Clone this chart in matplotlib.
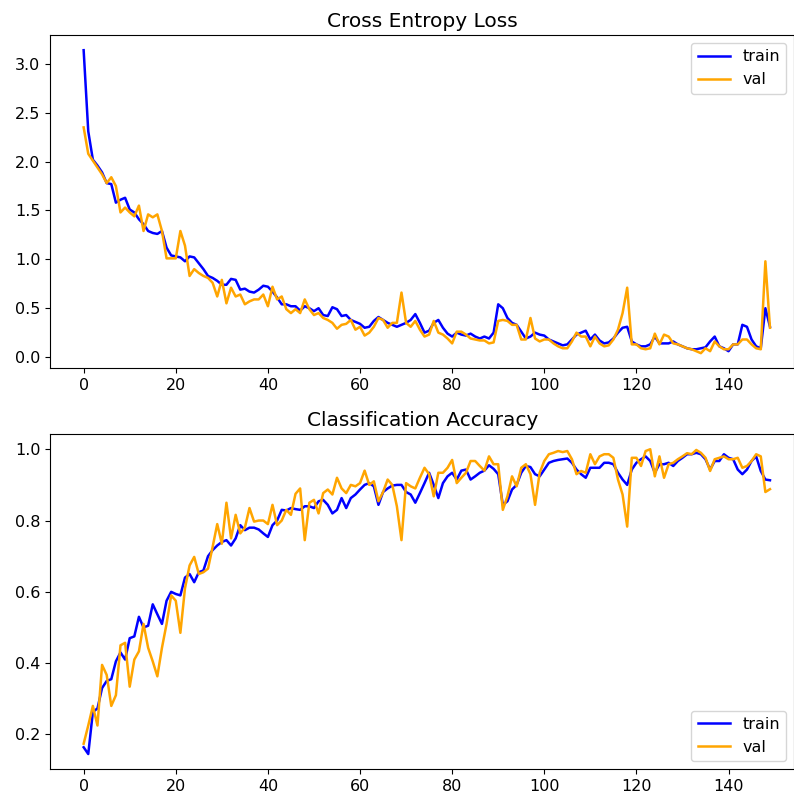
import matplotlib
matplotlib.use("Agg")
import matplotlib.pyplot as plt
import numpy as np

# Training history, one value per epoch (150 epochs)
loss_train = [
    3.14, 2.31, 2.02, 1.96, 1.89, 1.78, 1.77, 1.58, 1.61, 1.63,
    1.51, 1.48, 1.41, 1.36, 1.29, 1.27, 1.26, 1.29, 1.12, 1.04,
    1.03, 1.02, 0.98, 1.03, 1.02, 0.96, 0.90, 0.83, 0.81, 0.78,
    0.74, 0.74, 0.80, 0.79, 0.69, 0.70, 0.67, 0.66, 0.69, 0.73,
    0.72, 0.67, 0.61, 0.54, 0.54, 0.52, 0.52, 0.475, 0.52, 0.50,
    0.47, 0.50, 0.43, 0.42, 0.51, 0.49, 0.42, 0.43, 0.38, 0.36,
    0.34, 0.30, 0.31, 0.37, 0.41, 0.38, 0.35, 0.33, 0.31, 0.33,
    0.35, 0.38, 0.44, 0.35, 0.25, 0.27, 0.35, 0.38, 0.30, 0.24,
    0.21, 0.25, 0.23, 0.22, 0.24, 0.21, 0.19, 0.21, 0.19, 0.25,
    0.54, 0.50, 0.40, 0.35, 0.33, 0.26, 0.19, 0.21, 0.25, 0.23,
    0.22, 0.18, 0.16, 0.14, 0.12, 0.13, 0.18, 0.23, 0.25, 0.27,
    0.18, 0.23, 0.17, 0.14, 0.15, 0.19, 0.25, 0.30, 0.31, 0.16,
    0.13, 0.11, 0.11, 0.13, 0.21, 0.14, 0.14, 0.14, 0.16, 0.13,
    0.11, 0.09, 0.08, 0.08, 0.09, 0.10, 0.16, 0.21, 0.11, 0.09,
    0.06, 0.13, 0.13, 0.33, 0.31, 0.18, 0.11, 0.09, 0.50, 0.31,
]
loss_val = [
    2.35, 2.08, 2.01, 1.94, 1.87, 1.78, 1.84, 1.75, 1.48, 1.53,
    1.48, 1.44, 1.55, 1.29, 1.46, 1.43, 1.46, 1.29, 1.01, 1.01,
    1.01, 1.29, 1.14, 0.83, 0.90, 0.86, 0.83, 0.81, 0.76, 0.62,
    0.79, 0.55, 0.71, 0.62, 0.64, 0.54, 0.57, 0.59, 0.59, 0.64,
    0.52, 0.72, 0.59, 0.62, 0.49, 0.45, 0.49, 0.45, 0.59, 0.49,
    0.43, 0.45, 0.40, 0.38, 0.35, 0.29, 0.33, 0.34, 0.38, 0.28,
    0.31, 0.22, 0.25, 0.31, 0.40, 0.38, 0.30, 0.35, 0.35, 0.66,
    0.35, 0.31, 0.37, 0.28, 0.21, 0.23, 0.37, 0.25, 0.23, 0.19,
    0.14, 0.26, 0.26, 0.23, 0.19, 0.18, 0.17, 0.17, 0.14, 0.15,
    0.37, 0.38, 0.37, 0.33, 0.33, 0.18, 0.18, 0.40, 0.19, 0.16,
    0.18, 0.18, 0.14, 0.11, 0.09, 0.09, 0.16, 0.25, 0.21, 0.21,
    0.11, 0.21, 0.14, 0.11, 0.12, 0.18, 0.28, 0.45, 0.71, 0.13,
    0.13, 0.09, 0.08, 0.09, 0.24, 0.13, 0.23, 0.21, 0.14, 0.13,
    0.11, 0.09, 0.08, 0.06, 0.04, 0.09, 0.06, 0.16, 0.11, 0.08,
    0.08, 0.13, 0.13, 0.18, 0.18, 0.13, 0.09, 0.08, 0.98, 0.30,
]
acc_train = [
    0.164, 0.145, 0.263, 0.273, 0.330, 0.350, 0.355, 0.405, 0.430, 0.410,
    0.470, 0.475, 0.530, 0.500, 0.505, 0.565, 0.537, 0.510, 0.575, 0.600,
    0.594, 0.590, 0.640, 0.650, 0.627, 0.655, 0.660, 0.700, 0.717, 0.730,
    0.740, 0.745, 0.730, 0.750, 0.787, 0.773, 0.780, 0.780, 0.775, 0.764,
    0.754, 0.787, 0.800, 0.830, 0.828, 0.835, 0.832, 0.830, 0.840, 0.840,
    0.835, 0.854, 0.858, 0.844, 0.820, 0.830, 0.863, 0.835, 0.863, 0.873,
    0.887, 0.900, 0.905, 0.896, 0.844, 0.880, 0.890, 0.898, 0.900, 0.900,
    0.880, 0.873, 0.850, 0.877, 0.905, 0.934, 0.900, 0.863, 0.905, 0.924,
    0.934, 0.915, 0.940, 0.943, 0.915, 0.924, 0.934, 0.940, 0.955, 0.945,
    0.930, 0.844, 0.854, 0.887, 0.900, 0.934, 0.953, 0.950, 0.930, 0.924,
    0.943, 0.962, 0.967, 0.970, 0.972, 0.974, 0.962, 0.943, 0.930, 0.920,
    0.948, 0.948, 0.948, 0.962, 0.962, 0.958, 0.934, 0.915, 0.900, 0.943,
    0.962, 0.972, 0.980, 0.967, 0.934, 0.958, 0.958, 0.962, 0.953, 0.967,
    0.976, 0.986, 0.986, 0.990, 0.986, 0.972, 0.943, 0.967, 0.967, 0.986,
    0.976, 0.972, 0.943, 0.930, 0.943, 0.967, 0.980, 0.939, 0.915, 0.913,
]
acc_val = [
    0.174, 0.225, 0.280, 0.225, 0.395, 0.367, 0.280, 0.310, 0.450, 0.457,
    0.334, 0.410, 0.433, 0.510, 0.443, 0.405, 0.363, 0.443, 0.510, 0.590,
    0.575, 0.485, 0.610, 0.674, 0.698, 0.650, 0.655, 0.665, 0.726, 0.790,
    0.735, 0.850, 0.750, 0.816, 0.764, 0.780, 0.835, 0.797, 0.800, 0.800,
    0.790, 0.844, 0.787, 0.800, 0.830, 0.816, 0.875, 0.890, 0.745, 0.850,
    0.858, 0.820, 0.877, 0.887, 0.873, 0.920, 0.890, 0.877, 0.900, 0.896,
    0.905, 0.940, 0.900, 0.910, 0.854, 0.880, 0.915, 0.900, 0.840, 0.745,
    0.905, 0.896, 0.890, 0.920, 0.948, 0.930, 0.868, 0.934, 0.934, 0.948,
    0.970, 0.905, 0.920, 0.934, 0.967, 0.967, 0.953, 0.940, 0.980, 0.958,
    0.958, 0.830, 0.868, 0.924, 0.896, 0.948, 0.958, 0.930, 0.844, 0.934,
    0.967, 0.986, 0.990, 0.995, 0.992, 0.995, 0.972, 0.930, 0.939, 0.934,
    0.986, 0.958, 0.980, 0.986, 0.986, 0.976, 0.915, 0.873, 0.783, 0.976,
    0.976, 0.953, 0.995, 1.000, 0.924, 0.980, 0.920, 0.958, 0.962, 0.972,
    0.980, 0.989, 0.986, 0.998, 0.990, 0.976, 0.939, 0.972, 0.976, 0.980,
    0.972, 0.972, 0.976, 0.948, 0.953, 0.967, 0.986, 0.980, 0.880, 0.888,
]

epochs = np.arange(len(loss_train))

plt.rcParams["font.size"] = 11.5

fig = plt.figure(figsize=(7.94, 8.0), dpi=100)
ax1 = fig.add_axes([0.063, 0.5396, 0.9375, 0.4166])
ax2 = fig.add_axes([0.063, 0.0384, 0.9375, 0.4191])

ax1.set_title("Cross Entropy Loss", fontsize=14.5)
ax1.plot(epochs, loss_train, color="blue", label="train", linewidth=1.8)
ax1.plot(epochs, loss_val, color="orange", label="val", linewidth=1.8)
ax1.legend(loc="upper right")

ax2.set_title("Classification Accuracy", fontsize=14.5)
ax2.plot(epochs, acc_train, color="blue", label="train", linewidth=1.8)
ax2.plot(epochs, acc_val, color="orange", label="val", linewidth=1.8)
ax2.legend(loc="lower right")

for ax in (ax1, ax2):
    ax.set_xlim(-7.3, 154.3)

fig.savefig("out.png", dpi=100)
